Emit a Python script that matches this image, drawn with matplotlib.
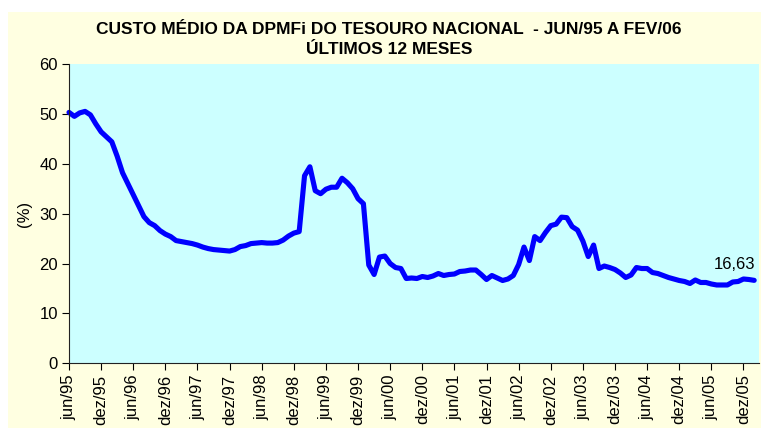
import matplotlib.pyplot as plt
import matplotlib.patches as mpatches

plt.rcParams['font.family'] = ['Liberation Sans', 'DejaVu Sans']

# custo medio mensal (%), jun/95 .. fev/06
custo = [50.3, 49.5, 50.2, 50.5, 49.8, 48.0, 46.4, 45.4, 44.4, 41.5,
         38.2, 36.0, 33.8, 31.6, 29.4, 28.2, 27.6, 26.6, 25.9, 25.4,
         24.6, 24.4, 24.2, 24.0, 23.7, 23.3, 23.0, 22.8, 22.7, 22.6,
         22.5, 22.8, 23.4, 23.6, 24.0, 24.1, 24.2, 24.1, 24.1, 24.2,
         24.7, 25.5, 26.1, 26.4, 37.6, 39.4, 34.6, 34.0, 34.9, 35.3,
         35.3, 37.1, 36.2, 35.0, 33.0, 32.0, 19.7, 17.8, 21.3, 21.5,
         20.0, 19.2, 19.0, 17.0, 17.1, 17.0, 17.4, 17.2, 17.5, 18.0,
         17.6, 17.8, 17.9, 18.4, 18.5, 18.7, 18.7, 17.8, 16.8, 17.6,
         17.1, 16.6, 16.9, 17.6, 19.8, 23.3, 20.6, 25.4, 24.6, 26.2,
         27.6, 27.9, 29.3, 29.2, 27.4, 26.7, 24.5, 21.4, 23.7, 19.0,
         19.5, 19.2, 18.8, 18.1, 17.2, 17.7, 19.2, 19.0, 19.0, 18.2,
         18.0, 17.6, 17.2, 16.9, 16.6, 16.4, 16.0, 16.7, 16.2, 16.2,
         15.9, 15.7, 15.7, 15.7, 16.3, 16.4, 16.9, 16.8, 16.63]

tick_labels = []
for ano in range(95, 106):
    tick_labels.append('jun/%02d' % (ano % 100))
    tick_labels.append('dez/%02d' % (ano % 100))
ultimo_label = '16,63'

fig = plt.figure(figsize=(7.61, 4.28), dpi=100)
fig.patch.set_facecolor('white')
# fundo amarelo do grafico (faixa branca no topo e na esquerda)
fig.patches.append(mpatches.Rectangle((8 / 761, 0), 1, 1 - 12 / 428,
                                      transform=fig.transFigure,
                                      facecolor='#FFFFE1', edgecolor='none',
                                      zorder=-1))

ax = fig.add_axes([69 / 761, 1 - 363.3 / 428, 690 / 761, (363.3 - 64) / 428])
ax.set_facecolor('#CCFFFF')

x = list(range(len(custo)))
ax.plot(x, custo, color='#0000FF', lw=3.7, solid_joinstyle='round',
        solid_capstyle='round', clip_on=False)

ax.set_xlim(0, 128.9)
ax.set_ylim(0, 60)
ax.set_yticks(range(0, 61, 10))
ax.set_xticks(range(0, len(tick_labels) * 6, 6))
ax.set_xticklabels(tick_labels, rotation=90, fontsize=12)
ax.tick_params(axis='y', labelsize=12, length=5, width=0.8, pad=3)
ax.tick_params(axis='x', length=5, width=0.8, pad=3)

for s in ['top', 'right']:
    ax.spines[s].set_visible(False)
for s in ['left', 'bottom']:
    ax.spines[s].set_color('#222222')
    ax.spines[s].set_linewidth(0.8)

ax.set_ylabel('(%)', fontsize=12)
ax.yaxis.set_label_coords(-0.054, 0.5)

ax.annotate(ultimo_label, xy=(x[-1], custo[-1]), xytext=(-14, 6),
            textcoords='offset points', ha='center', va='bottom', fontsize=12)

titulo = 'CUSTO MÉDIO DA DPMFi DO TESOURO NACIONAL  - JUN/95 A FEV/06'
fig.text(389 / 761, 1 - 29 / 428, titulo,
         ha='center', va='center', fontsize=12.5, fontweight='bold')
fig.text(389 / 761, 1 - 50 / 428, 'ÚLTIMOS 12 MESES',
         ha='center', va='center', fontsize=12.5, fontweight='bold')

fig.savefig('out.png', dpi=100, facecolor=fig.get_facecolor())
